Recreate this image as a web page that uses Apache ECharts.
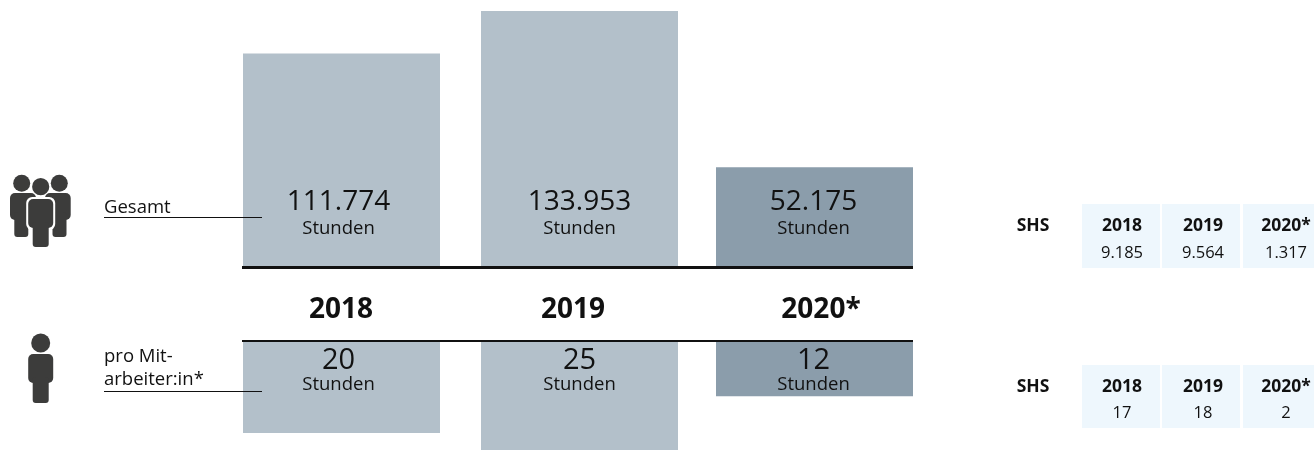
<!DOCTYPE html>
<html>
<head>
<meta charset="utf-8">
<style>html,body{margin:0;padding:0;background:#fff}#c{width:1314px;height:450px}</style>
<script src="https://cdn.jsdelivr.net/npm/echarts@6/dist/echarts.min.js"></script>
</head>
<body>
<div id="c"></div>
<script>
const years = ['2018', '2019', '2020*'];
const totalHours = [111774, 133953, 52175];
const perEmployeeHours = [20, 25, 12];
const shsYears = ['2018', '2019', '2020*'];
const shsTotal = ['9.185', '9.564', '1.317'];
const shsPerEmployee = ['17', '18', '2'];
const unitLabel = 'Stunden';

const FONT = '"Open Sans", sans-serif';
const INK = '#111111';
const ICON = '#3c3c3b';
const LIGHT = '#b3c0ca';
const DARK = '#8b9dab';
const CELL = '#eef7fd';
const barLefts = [243, 481, 716];
const barW = 197;
const labelShift = [-3, 0, -1];
const yearCenters = [341, 573, 821];
const cellX = [[1082, 78], [1162, 78], [1243, 71]];
const cellCenters = [1122, 1203, 1286];
// the lower panel runs off the bottom of the picture: 4.6 px per hour, 109 px visible
const lowerVisibleMax = 109 / 4.6;

const deNum = v => String(v).replace(/\B(?=(\d{3})+(?!\d))/g, '.');
const chart = echarts.init(document.getElementById('c'), null, {renderer: 'canvas'});

const grid = [], xAxis = [], yAxis = [], series = [];
function addBar(i, values, top, height, max, inverse, labelPos, dist, big, valueLine) {
  const n = grid.length;
  grid.push({left: barLefts[i], width: barW, top: top, height: height});
  xAxis.push({type: 'category', gridIndex: n, data: [years[i]], show: false});
  yAxis.push({type: 'value', gridIndex: n, min: 0, max: max, inverse: inverse, show: false});
  series.push({
    type: 'bar', xAxisIndex: n, yAxisIndex: n, barWidth: '100%', silent: true,
    data: [values[i]],
    itemStyle: {color: i === 2 ? DARK : LIGHT},
    label: {
      show: true, position: labelPos, distance: dist, offset: [labelShift[i], 0],
      formatter: p => '{v|' + deNum(p.value) + '}\n{u|' + unitLabel + '}',
      rich: {
        v: {fontFamily: FONT, fontSize: big, color: INK, lineHeight: valueLine, align: 'center'},
        u: {fontFamily: FONT, fontSize: 18.5, color: INK, lineHeight: 26, align: 'center'}
      }
    }
  });
}
years.forEach((y, i) => {
  addBar(i, totalHours, 11, 256, 133953, false, 'insideBottom', 25, 28, 28);
  addBar(i, perEmployeeHours, 341, 109, lowerVisibleMax, true, 'insideTop', 9, 29, 22);
});

const text = (x, y, s, size, weight, align, fill) => ({
  type: 'text', z: 20, x: x, y: y,
  style: {text: s, fontFamily: FONT, fontSize: size, fontWeight: weight || 'normal',
    fill: fill || INK, align: align || 'center', verticalAlign: 'middle'}
});
const rect = (x, y, w, h, fill, r, extra) => Object.assign({
  type: 'rect', z: 15, shape: {x: x, y: y, width: w, height: h, r: r || 0}, style: {fill: fill}
}, extra || {});
const circle = (cx, cy, r) => ({type: 'circle', z: 15, shape: {cx: cx, cy: cy, r: r}, style: {fill: ICON}});

function person(cx, headY, headR, bodyW, bodyTop, bodyBot, legW, legBot, outline) {
  const out = [circle(cx, headY, headR)];
  if (outline) {
    out.push(rect(cx - bodyW / 2 - 2, bodyTop - 2, bodyW + 4, bodyBot - bodyTop + 4, '#fff', 6, {z: 16}));
    out.push(rect(cx - legW / 2 - 2, bodyBot - 4, legW + 4, legBot - bodyBot + 6, '#fff', 4, {z: 16}));
  }
  const z = outline ? 17 : 15;
  out.push(rect(cx - bodyW / 2, bodyTop, bodyW, bodyBot - bodyTop, ICON, 5, {z: z}));
  out.push(rect(cx - legW / 2, bodyBot - 6, legW, legBot - bodyBot + 6, ICON, 3, {z: z}));
  return out;
}

const graphics = [];
// separators
graphics.push(rect(242, 266, 671, 3, '#111', 0, {z: 18}));
graphics.push(rect(242, 340, 671, 2, '#111', 0, {z: 18}));
// year labels
years.forEach((y, i) => graphics.push(text(yearCenters[i], 310, y, 28, 'bold')));
// row captions and leaders
graphics.push(text(104, 208, 'Gesamt', 18.5, 'normal', 'left'));
graphics.push(rect(104, 217, 158, 1, '#111', 0, {z: 18}));
graphics.push(text(104, 356.5, 'pro Mit-', 18.5, 'normal', 'left'));
graphics.push(text(104, 379.5, 'arbeiter:in*', 18.5, 'normal', 'left'));
graphics.push(rect(104, 391, 158, 1, '#111', 0, {z: 18}));
// icons
graphics.push(circle(21.7, 183.3, 8.5), circle(59.3, 183.3, 8.5));
graphics.push(rect(10, 193, 26, 27, ICON, 5), rect(14.3, 212, 14, 25, ICON, 3));
graphics.push(rect(45, 193, 25.7, 27, ICON, 5), rect(52.5, 212, 14, 25, ICON, 3));
graphics.push(...person(40.7, 186.7, 8.6, 25, 199, 228, 16, 247, true));
graphics.push(...person(40.7, 343, 9.5, 25, 354, 383, 16, 403, false));
// side tables
function table(top, h, values, headY, valY) {
  graphics.push(text(1033, headY, 'SHS', 17.5, 'bold'));
  shsYears.forEach((y, i) => {
    graphics.push(rect(cellX[i][0], top, cellX[i][1], h, CELL, 0, {z: 5}));
    graphics.push(text(cellCenters[i], headY, y, 17.5, 'bold'));
    graphics.push(text(cellCenters[i], valY, values[i], 16.5));
  });
}
table(204, 64, shsTotal, 226, 253);
table(365, 63, shsPerEmployee, 387, 413);

chart.setOption({
  animation: false,
  backgroundColor: '#fff',
  grid: grid, xAxis: xAxis, yAxis: yAxis, series: series,
  graphic: graphics
});
</script>
</body>
</html>
